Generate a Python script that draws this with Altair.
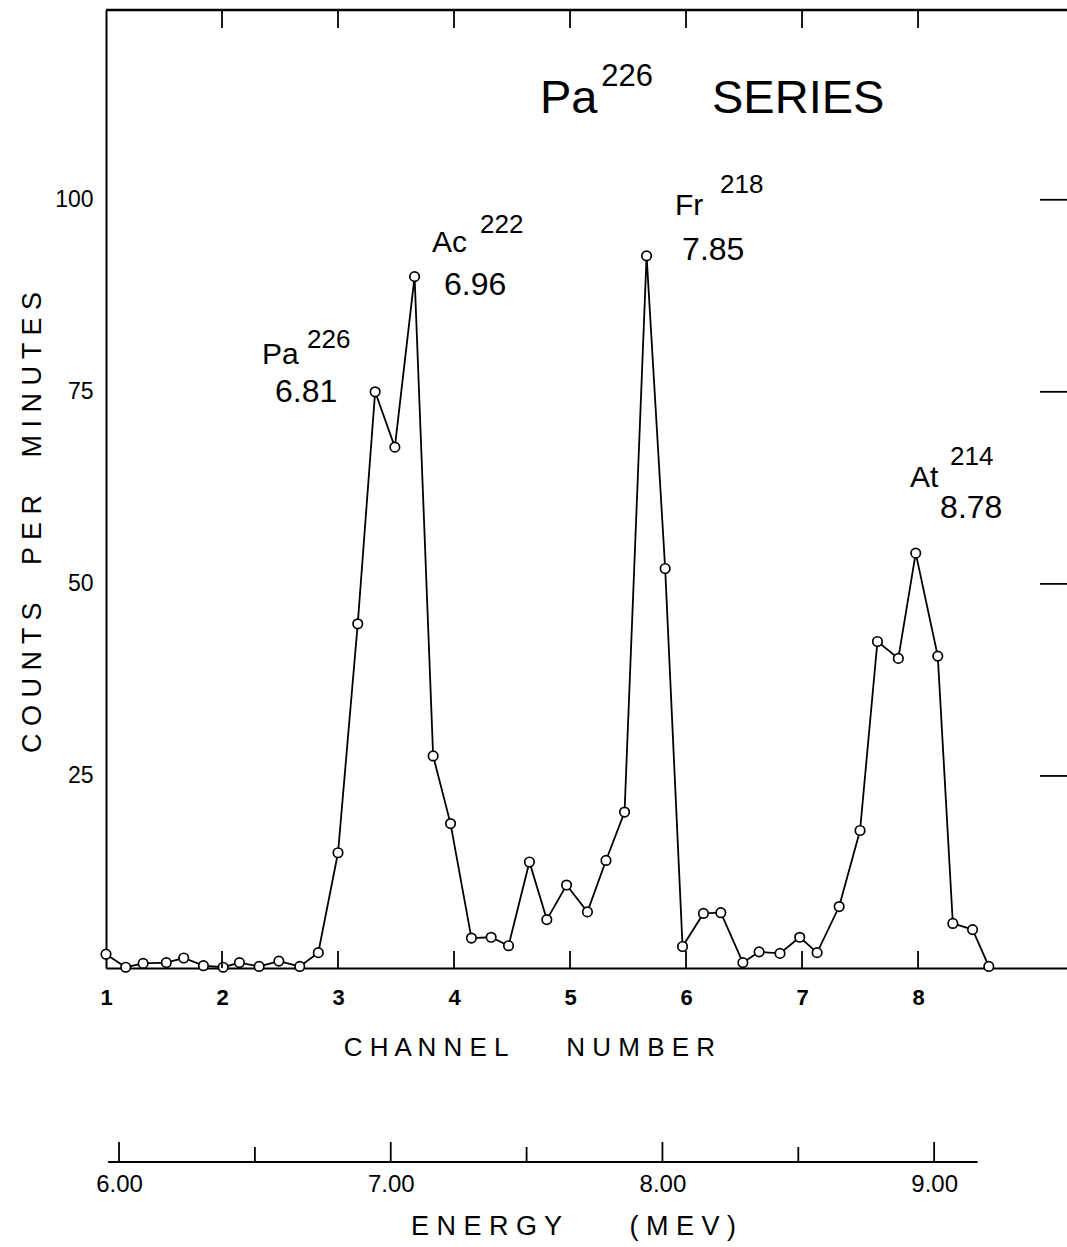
import altair as alt
import pandas as pd

# ---- data ----
channel = [1.00, 1.17, 1.32, 1.52, 1.67, 1.84, 2.01, 2.15, 2.32, 2.49, 2.67, 2.83,
           3.00, 3.17, 3.32, 3.49, 3.66, 3.82, 3.97, 4.15, 4.32, 4.47, 4.65, 4.80,
           4.97, 5.15, 5.31, 5.47, 5.66, 5.82, 5.97, 6.15, 6.30, 6.49, 6.63, 6.81,
           6.98, 7.13, 7.32, 7.50, 7.65, 7.83, 7.98, 8.17, 8.30, 8.47, 8.61]
counts = [1.8, 0.1, 0.6, 0.7, 1.3, 0.3, 0.1, 0.7, 0.2, 0.9, 0.2, 2.0,
          15.0, 44.8, 75.0, 67.8, 90.0, 27.6, 18.8, 3.9, 4.0, 2.9, 13.8, 6.3,
          10.8, 7.3, 14.0, 20.3, 92.7, 52.0, 2.8, 7.1, 7.2, 0.7, 2.1, 1.9,
          4.0, 2.0, 8.0, 17.9, 42.5, 40.3, 54.0, 40.6, 5.8, 5.0, 0.2]

channel_labels = [1, 2, 3, 4, 5, 6, 7, 8]
channel_ticks = [2, 3, 4, 5, 6, 7, 8]
count_ticks = [25, 50, 75, 100]
energy_major = [6.0, 7.0, 8.0, 9.0]
energy_minor = [6.5, 7.5, 8.5]
energy_span = [5.96, 9.16]

# annotation texts (data coordinates: channel, counts)
title_text = ["Pa", "SERIES"]
title_x = [4.741, 6.224]
title_y = [111.3, 111.3]
title_sup = ["226"]
title_sup_x = [5.27]
title_sup_y = [114.8]

elem_text = ["Pa", "Ac", "Fr", "At"]
elem_x = [2.345, 3.810, 5.905, 7.931]
elem_y = [78.6, 93.2, 98.0, 62.6]
mass_text = ["226", "222", "218", "214"]
mass_x = [2.733, 4.224, 6.293, 8.276]
mass_y = [80.7, 95.7, 100.9, 65.5]
mev_text = ["6.81", "6.96", "7.85", "8.78"]
mev_x = [2.457, 3.914, 5.966, 8.190]
mev_y = [73.7, 87.6, 92.2, 58.6]

# ---- layout ----
W, H = 961, 958
FONT = "Liberation Sans"
E_OFF = 194


def spaced(words, gap):
    return ("\u00a0" * gap).join(" ".join(w) for w in words)


xs = alt.Scale(domain=[1, 9.284], nice=False, zero=False)
ys = alt.Scale(domain=[0, 124.7], nice=False, zero=True)
es = alt.Scale(domain=[5.952, 9.489], nice=False, zero=False)

df = pd.DataFrame({"channel": channel, "counts": counts})

x_axis = alt.Axis(values=channel_labels, format="d", ticks=False, tickSize=0,
                  domain=True, domainColor="black", domainWidth=2, grid=False,
                  labelFont=FONT, labelFontSize=22, labelFontWeight="bold",
                  labelColor="black",
                  labelPadding=19, labelFlush=False, labelOverlap=False,
                  title=spaced(["CHANNEL", "NUMBER"], 8), titleFont=FONT,
                  titleFontSize=26, titleFontWeight="normal", titleColor="black",
                  titleX=423, titleY=79, titleBaseline="middle", titleAlign="center")
y_axis = alt.Axis(values=count_ticks, ticks=False, tickSize=0, domain=True,
                  domainColor="black", domainWidth=2, grid=False,
                  labelFont=FONT, labelFontSize=23, labelColor="black",
                  labelPadding=13, labelFlush=False, labelOverlap=False,
                  title=spaced(["COUNTS", "PER", "MINUTES"], 5), titleFont=FONT,
                  titleFontSize=27, titleFontWeight="normal", titleColor="black",
                  titleAngle=270, titleX=-74, titleY=512, titleBaseline="middle",
                  titleAlign="center")

line = alt.Chart(df).mark_line(color="black", strokeWidth=1.8).encode(
    x=alt.X("channel:Q", scale=xs, axis=x_axis),
    y=alt.Y("counts:Q", scale=ys, axis=y_axis),
)
pts = alt.Chart(df).mark_point(shape="circle", fill="white", fillOpacity=1,
                               stroke="black", strokeWidth=1.7, size=90,
                               opacity=1).encode(
    x=alt.X("channel:Q", scale=xs),
    y=alt.Y("counts:Q", scale=ys),
)

tick_df = pd.DataFrame({"channel": channel_ticks})
top_ticks = alt.Chart(tick_df).mark_rule(color="black", strokeWidth=1.8).encode(
    x=alt.X("channel:Q", scale=xs), y=alt.value(0), y2=alt.value(18))
bottom_ticks = alt.Chart(tick_df).mark_rule(color="black", strokeWidth=1.8).encode(
    x=alt.X("channel:Q", scale=xs), y=alt.value(H - 17), y2=alt.value(H))
right_ticks = alt.Chart(pd.DataFrame({"counts": count_ticks})).mark_rule(
    color="black", strokeWidth=1.8).encode(
    y=alt.Y("counts:Q", scale=ys), x=alt.value(W - 27), x2=alt.value(W))
top_line = alt.Chart(pd.DataFrame({"channel": [1]})).mark_rule(
    color="black", strokeWidth=2.5).encode(
    x=alt.value(0), x2=alt.value(W), y=alt.value(0))


def text_layer(texts, xv, yv, size):
    d = pd.DataFrame({"channel": xv, "counts": yv, "label": texts})
    return alt.Chart(d).mark_text(align="left", baseline="alphabetic", font=FONT,
                                  fontSize=size, color="black").encode(
        x=alt.X("channel:Q", scale=xs), y=alt.Y("counts:Q", scale=ys),
        text="label:N")


texts = [
    text_layer(title_text, title_x, title_y, 47),
    text_layer(title_sup, title_sup_x, title_sup_y, 31),
    text_layer(elem_text, elem_x, elem_y, 30),
    text_layer(mass_text, mass_x, mass_y, 26),
    text_layer(mev_text, mev_x, mev_y, 32),
]

main = alt.layer(line, pts, top_ticks, bottom_ticks, right_ticks, top_line, *texts)

# ---- energy axis ----
e_axis = alt.Axis(orient="bottom", offset=E_OFF, values=energy_major, format=".2f",
                  ticks=False, tickSize=0, domain=False, grid=False,
                  labelFont=FONT, labelFontSize=24, labelColor="black",
                  labelPadding=10, labelFlush=False, labelOverlap=False,
                  title=spaced(["ENERGY", "(MEV)"], 9), titleFont=FONT,
                  titleFontSize=27, titleFontWeight="normal", titleColor="black",
                  titleX=467, titleY=64, titleBaseline="middle", titleAlign="center")

e_major = alt.Chart(pd.DataFrame({"energy": energy_major})).mark_rule(
    color="black", strokeWidth=1.8).encode(
    x=alt.X("energy:Q", scale=es, axis=e_axis),
    y=alt.value(H + E_OFF - 20), y2=alt.value(H + E_OFF))
e_minor = alt.Chart(pd.DataFrame({"energy": energy_minor})).mark_rule(
    color="black", strokeWidth=1.8).encode(
    x=alt.X("energy:Q", scale=es),
    y=alt.value(H + E_OFF - 15), y2=alt.value(H + E_OFF))
e_line = alt.Chart(pd.DataFrame({"energy": [energy_span[0]], "energy2": [energy_span[1]]})).mark_rule(
    color="black", strokeWidth=2.2).encode(
    x=alt.X("energy:Q", scale=es), x2="energy2:Q", y=alt.value(H + E_OFF))

energy = alt.layer(e_major, e_minor, e_line)

chart = alt.layer(main, energy).resolve_scale(x="independent").properties(
    width=W, height=H,
    padding={"left": 106, "top": 10, "right": 0, "bottom": 279},
    autosize=alt.AutoSizeParams(type="none"),
    background="white",
).configure_view(stroke=None)

chart.save("out.html", embed_options={"renderer": "svg", "actions": False})
